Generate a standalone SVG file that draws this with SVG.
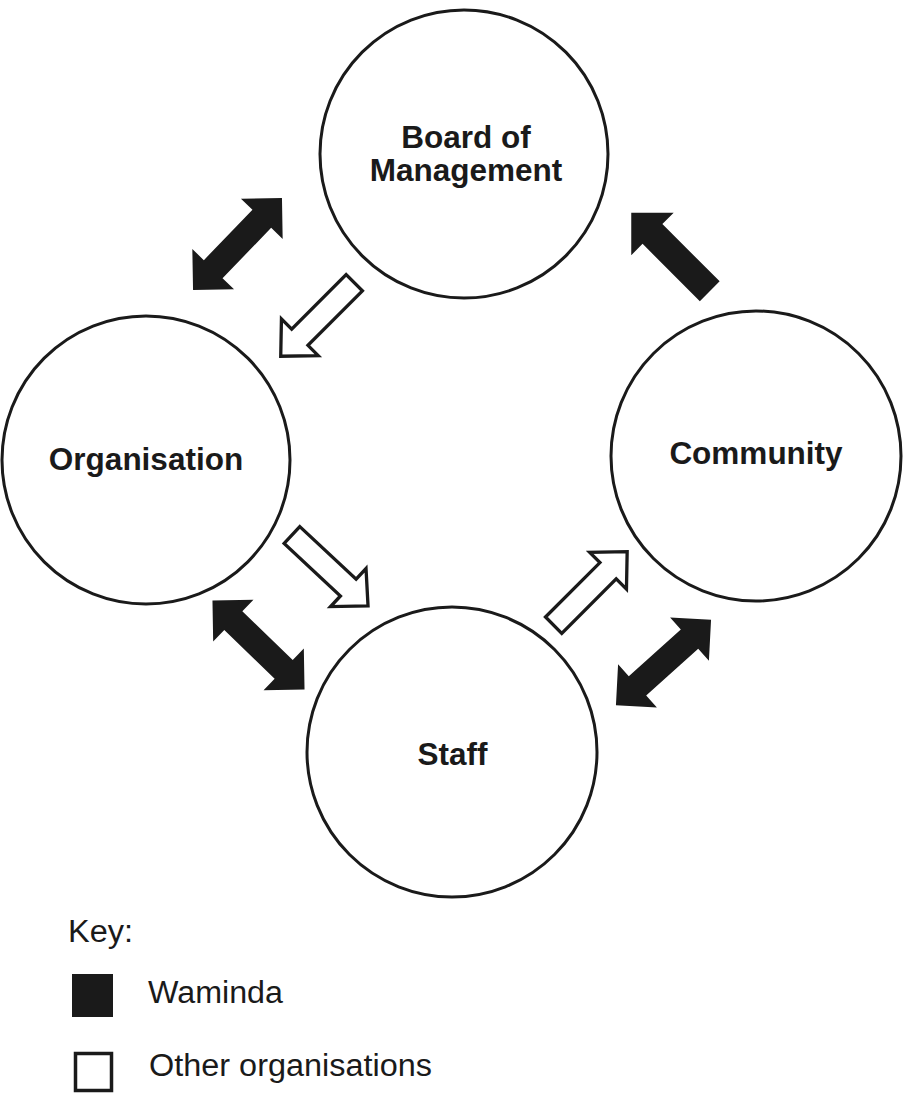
<svg xmlns="http://www.w3.org/2000/svg" width="912" height="1093" viewBox="0 0 912 1093">
<defs>
<style>
.node{fill:#fff;stroke:#1a1a1a;stroke-width:3}
.lbl{font-family:"Liberation Sans",Arial,sans-serif;font-weight:bold;font-size:31.5px;fill:#1a1a1a;text-anchor:middle}
.key{font-family:"Liberation Sans",Arial,sans-serif;font-size:31px;fill:#1a1a1a}
.blk{fill:#1a1a1a;stroke:none}
.wht{fill:#fff;stroke:#1a1a1a;stroke-width:3.3;stroke-linejoin:miter}
</style>
<path id="dbl" d="M -64,0 L -35,-29 L -35,-13 L 35,-13 L 35,-29 L 64,0 L 35,29 L 35,13 L -35,13 L -35,29 Z"/>
<path id="sgl" d="M -55.5,-14 L 25.5,-14 L 25.5,-30 L 55.5,0 L 25.5,30 L 25.5,14 L -55.5,14 Z"/>
<path id="hol" d="M -52,-11.5 L 25,-11.5 L 25,-26 L 52,0 L 25,26 L 25,11.5 L -52,11.5 Z"/>
</defs>
<rect width="912" height="1093" fill="#fff"/>
<g id="board">
<circle class="node" cx="464" cy="154" r="144"/>
<text class="lbl" x="466" y="148">Board of</text>
<text class="lbl" x="466" y="181">Management</text>
</g>
<g id="organisation">
<circle class="node" cx="146" cy="460" r="144"/>
<text class="lbl" x="146" y="470">Organisation</text>
</g>
<g id="community">
<circle class="node" cx="756" cy="456" r="145"/>
<text class="lbl" x="756" y="464">Community</text>
</g>
<g id="staff">
<circle class="node" cx="452" cy="752" r="145"/>
<text class="lbl" x="452.5" y="765">Staff</text>
</g>
<g id="connectors">
<use href="#dbl" class="blk" transform="translate(237.5,244) rotate(-46)"/>
<use href="#hol" class="wht" transform="translate(317.5,319.5) rotate(135)"/>
<use href="#sgl" class="blk" transform="translate(670.5,252) rotate(-135)"/>
<use href="#hol" class="wht" transform="translate(330,570.5) rotate(43)"/>
<use href="#dbl" class="blk" transform="translate(258.5,645) rotate(44)"/>
<use href="#hol" class="wht" transform="translate(590.4,588.4) rotate(-45)"/>
<use href="#dbl" class="blk" transform="translate(663.5,662.5) rotate(-42)"/>
</g>
<g id="legend">
<text class="key" x="68" y="942" textLength="65" lengthAdjust="spacingAndGlyphs">Key:</text>
<rect x="72" y="974" width="41" height="43" fill="#1a1a1a"/>
<text class="key" x="148" y="1003" textLength="135" lengthAdjust="spacingAndGlyphs">Waminda</text>
<rect x="75.5" y="1053.5" width="36" height="37" fill="#fff" stroke="#1a1a1a" stroke-width="3.5"/>
<text class="key" x="149" y="1076" textLength="283" lengthAdjust="spacingAndGlyphs">Other organisations</text>
</g>
</svg>
